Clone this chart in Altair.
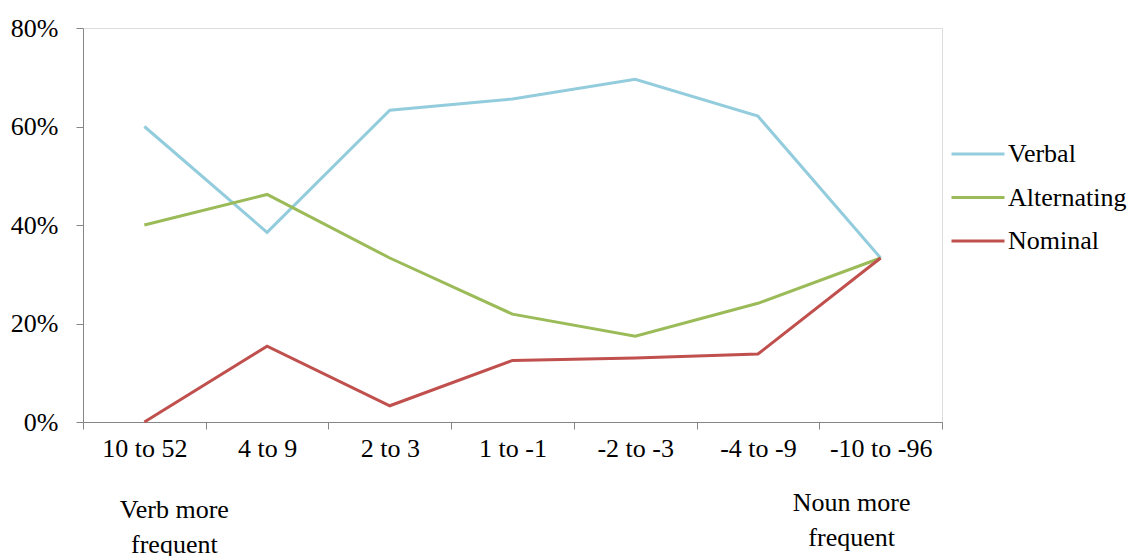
import altair as alt
import pandas as pd

categories = ["10 to 52", "4 to 9", "2 to 3", "1 to -1", "-2 to -3", "-4 to -9", "-10 to -96"]
series = ["Verbal", "Alternating", "Nominal"]
verbal = [0.600, 0.385, 0.633, 0.656, 0.696, 0.621, 0.333]
alternating = [0.400, 0.462, 0.333, 0.219, 0.174, 0.241, 0.333]
nominal = [0.000, 0.154, 0.033, 0.125, 0.130, 0.138, 0.333]
colors = ["#93CDDD", "#9BBB59", "#C0504D"]

note_cats = ["10 to 52", "-10 to -96"]
note_texts = ["Verb more\nfrequent", "Noun more\nfrequent"]
note_dx = [30, -29]
note_y = [482, 475]

rows = []
for name, vals in zip(series, [verbal, alternating, nominal]):
    for c, v in zip(categories, vals):
        rows.append({"cat": c, "value": v, "series": name})
df = pd.DataFrame(rows)

FONT = "Liberation Serif"
FS = 26

xscale = alt.Scale(type="band", domain=categories, paddingInner=0, paddingOuter=0)

lines = alt.Chart(df).mark_line(strokeWidth=3).encode(
    x=alt.X("cat:N", sort=categories, scale=xscale, bandPosition=0.5,
            axis=alt.Axis(title=None, labelAngle=0, tickBand="extent", labelFontSize=FS,
                          labelFont=FONT, labelColor="black", domainColor="#868686",
                          tickColor="#868686", tickSize=7, labelPadding=6)),
    y=alt.Y("value:Q", scale=alt.Scale(domain=[0, 0.8], nice=False),
            axis=alt.Axis(title=None, format=".0%", values=[0, 0.2, 0.4, 0.6, 0.8], grid=False,
                          labelFontSize=FS, labelFont=FONT, labelColor="black",
                          domainColor="#868686", tickColor="#868686", tickSize=7, labelPadding=18)),
    color=alt.Color("series:N", sort=series,
                    scale=alt.Scale(domain=series, range=colors),
                    legend=alt.Legend(title=None, orient="none", legendX=867, legendY=98,
                                      symbolType="stroke", symbolSize=2809, symbolStrokeWidth=3,
                                      labelFontSize=FS, labelFont=FONT, labelColor="black",
                                      rowPadding=2.5, labelOffset=2, labelLimit=0)),
)

notes = []
for c, t, d, yy in zip(note_cats, note_texts, note_dx, note_y):
    notes.append(
        alt.Chart(pd.DataFrame({"cat": [c], "text": [t]})).mark_text(
            fontSize=FS, font=FONT, color="black", lineBreak="\n", baseline="middle",
            align="center", dx=d, lineHeight=35
        ).encode(
            x=alt.X("cat:N", sort=categories, scale=xscale, bandPosition=0.5),
            y=alt.value(yy),
            text="text:N",
        )
    )

chart = alt.layer(lines, *notes).properties(
    width=859, height=394,
    autosize=alt.AutoSizeParams(type="none"),
    padding={"left": 75, "top": 20, "right": 187, "bottom": 134},
).configure_view(stroke=None).configure(background="white")

chart.save("out.html", embed_options={"renderer": "svg", "actions": False})
